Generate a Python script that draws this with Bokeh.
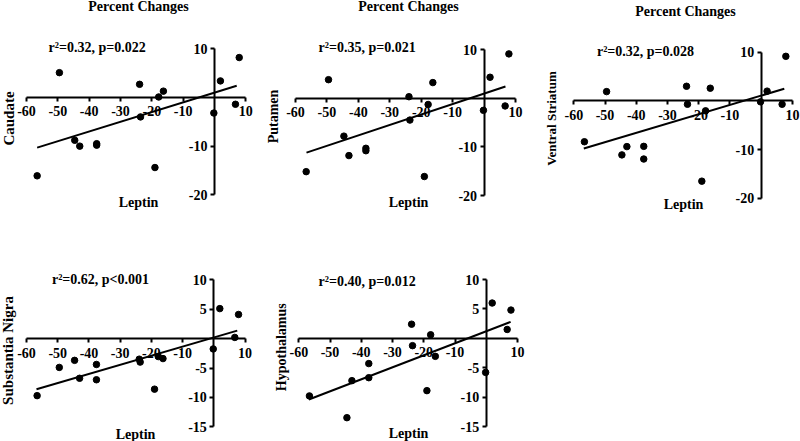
import math
import numpy as np
from bokeh.plotting import figure
from bokeh.models import Range1d, FixedTicker, Label
from bokeh.layouts import column, row
from bokeh.embed import file_html
from bokeh.resources import INLINE

# ---------------- data ----------------
leptin = [-56.6, -49.5, -44.6, -43.0, -37.6, -37.6, -23.9, -23.6, -19.0, -17.8, -16.3, -0.2, 1.9, 6.7, 7.9]
caudate = [-16.1, 5.1, -8.8, -10.0, -9.5, -9.8, 2.7, -4.0, -14.4, 0.1, 1.3, -3.2, 3.4, -1.4, 8.2]
putamen = [-15.1, 3.8, -7.8, -11.8, -10.3, -10.8, 0.3, -4.5, -16.1, -1.3, 3.2, -2.5, 4.3, -1.6, 9.1]
ventral_striatum = [-8.4, 1.9, -11.1, -9.4, -9.35, -11.95, 3.0, -0.7, -16.5, -2.05, 2.6, -0.2, 2.0, -0.7, 9.15]
substantia_nigra = [-9.7, -4.9, -3.7, -6.75, -4.4, -7.0, -3.5, -4.0, -8.6, -3.06, -3.4, -1.76, 5.1, 0.2, 4.1]
hypothalamus = [-9.8, float("nan"), -13.5, -7.2, -4.3, -6.7, 2.4, -1.25, -8.9, 0.6, -3.07, -5.8, 6.0, 1.5, 4.8]

# regression lines: (x_start, y_start, x_end, y_end)
fit_caudate = [-56.6, -10.3, 7.1, 2.4]
fit_putamen = [-56.5, -11.2, 6.8, 2.4]
fit_ventral_striatum = [-56.8, -9.8, 7.4, 2.5]
fit_substantia_nigra = [-56.8, -8.6, 7.5, 1.35]
fit_hypothalamus = [-56.8, -10.4, 7.8, 2.8]

region_names = ["Caudate", "Putamen", "Ventral Striatum", "Substantia Nigra", "Hypothalamus"]
stats_texts = ["r\u00b2=0.32, p=0.022", "r\u00b2=0.35, p=0.021", "r\u00b2=0.32, p=0.028",
               "r\u00b2=0.62, p<0.001", "r\u00b2=0.40, p=0.012"]
title_text = "Percent Changes"
x_label_text = "Leptin"

x_ticks = [-60, -50, -40, -30, -20, -10, 10]
x_tick_labels = ["-60", "-50", "-40", "-30", "-20", "-10", "10"]
y_ticks_top = [-20, -10, 10]
y_tick_labels_top = ["-20", "-10", "10"]
y_ticks_bottom = [-15, -10, -5, 5, 10]
y_tick_labels_bottom = ["-15", "-10", "-5", "5", "10"]

FONT = "Liberation Serif"
X_AXIS = (-60, 10)

# ---------------- layout specs ----------------
# figure size, pixel margins around the axis box, y-axis extent
specs = [
    dict(w=263, h=223, bl=26.0, br=17.7, bt=48.3, bb=28.7, yr=(-20, 10)),
    dict(w=280, h=223, bl=32.0, br=28.0, bt=49.0, bb=28.0, yr=(-20, 10)),
    dict(w=257, h=223, bl=30.3, br=8.1, bt=51.7, bb=25.3, yr=(-20, 10)),
    dict(w=263, h=218, bl=26.0, br=18.4, bt=56.3, bb=14.7, yr=(-15, 10)),
    dict(w=280, h=218, bl=35.3, br=26.0, bt=56.0, bb=15.0, yr=(-15, 10)),
]
# label positions in figure-local canvas px: title, stats, x-label, y-label
label_pos = [
    dict(title=(138, 5.5), stats=(96.7, 46.7), xl=(138, 201.7), yl=(8, 118), ylsize="15px"),
    dict(title=(145, 5.5), stats=(103.7, 46.7), xl=(145, 201.7), yl=(9.5, 116), ylsize="14px"),
    dict(title=(142, 11), stats=(102, 50.7), xl=(140, 204), yl=(7.5, 118), ylsize="13px"),
    dict(title=None, stats=(100, 56.3), xl=(135, 211), yl=(7.5, 127), ylsize="15px"),
    dict(title=None, stats=(103.7, 58), xl=(145, 210.3), yl=(18, 123.7), ylsize="14px"),
]


def ranges_for(s):
    fw = s["w"] - s["bl"] - s["br"]
    fh = s["h"] - s["bt"] - s["bb"]
    x0, x1 = X_AXIS
    y0, y1 = s["yr"]
    ux = (x1 - x0) / fw
    uy = (y1 - y0) / fh
    return (x0 - s["bl"] * ux, x1 + s["br"] * ux), (y0 - s["bb"] * uy, y1 + s["bt"] * uy)


def to_data(s, cx, cy):
    (X0, X1), (Y0, Y1) = ranges_for(s)
    return X0 + cx / s["w"] * (X1 - X0), Y1 - cy / s["h"] * (Y1 - Y0)


def add_text(p, s, pos, text, size, baseline="middle", angle=0.0):
    x, y = to_data(s, *pos)
    p.add_layout(Label(x=x, y=y, text=text, text_font=FONT, text_font_style="bold",
                       text_font_size=size, text_color="black", text_align="center",
                       text_baseline=baseline, angle=angle))


def make_panel(i, ys, fit):
    s = specs[i]
    lp = label_pos[i]
    xr, yr = ranges_for(s)
    p = figure(width=s["w"], height=s["h"], x_range=Range1d(*xr), y_range=Range1d(*yr),
               output_backend="svg", toolbar_location=None,
               min_border_left=0, min_border_right=0, min_border_top=0, min_border_bottom=0)
    p.xgrid.visible = False
    p.ygrid.visible = False
    p.outline_line_color = None

    if s["yr"][0] == -20:
        yt, ytl = y_ticks_top, y_tick_labels_top
    else:
        yt, ytl = y_ticks_bottom, y_tick_labels_bottom

    for ax, ticks, labels, bnds, standoff in ((p.xaxis[0], x_ticks, x_tick_labels, X_AXIS, 5),
                                              (p.yaxis[0], yt, ytl, s["yr"], 3)):
        ax.fixed_location = 0
        ax.bounds = bnds
        ax.ticker = FixedTicker(ticks=ticks)
        ax.major_label_overrides = {t: l for t, l in zip(ticks, labels)}
        ax.axis_line_width = 2
        ax.axis_line_color = "black"
        ax.major_tick_line_width = 2
        ax.major_tick_line_color = "black"
        ax.major_tick_in = 0
        ax.major_tick_out = 4
        ax.minor_tick_line_color = None
        ax.major_label_text_font = FONT
        ax.major_label_text_font_style = "bold"
        ax.major_label_text_font_size = "14px"
        ax.major_label_text_color = "black"
        ax.major_label_standoff = standoff

    xs = np.array(leptin, dtype=float)
    yv = np.array(ys, dtype=float)
    ok = ~np.isnan(yv)
    p.line([fit[0], fit[2]], [fit[1], fit[3]], line_color="black", line_width=2)
    p.scatter(xs[ok], yv[ok], size=6.5, color="black")

    if lp["title"] is not None:
        add_text(p, s, lp["title"], title_text, "14px")
    add_text(p, s, lp["stats"], stats_texts[i], "14px")
    add_text(p, s, lp["xl"], x_label_text, "14px")
    add_text(p, s, lp["yl"], region_names[i], lp["ylsize"], angle=math.pi / 2)
    return p


series = [caudate, putamen, ventral_striatum, substantia_nigra, hypothalamus]
fits = [fit_caudate, fit_putamen, fit_ventral_striatum, fit_substantia_nigra, fit_hypothalamus]
panels = [make_panel(i, ys, f) for i, (ys, f) in enumerate(zip(series, fits))]

layout = column(row(panels[0], panels[1], panels[2]), row(panels[3], panels[4]))

with open("out.html", "w") as f:
    f.write(file_html(layout, INLINE))
